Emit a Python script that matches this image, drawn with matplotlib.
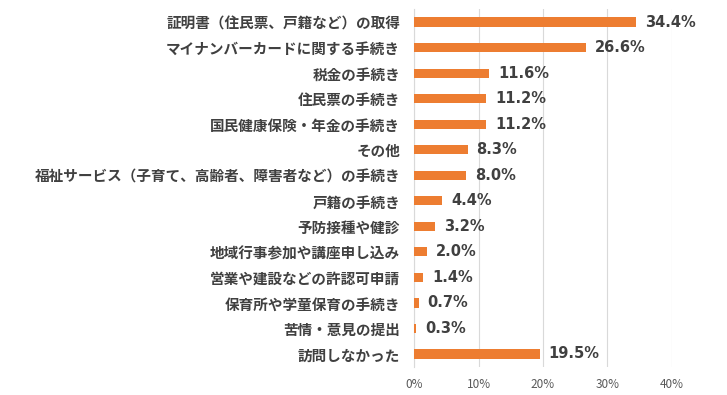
import matplotlib
matplotlib.use('Agg')
import matplotlib.pyplot as plt
from matplotlib.ticker import FuncFormatter

plt.rcParams['font.family'] = ['Noto Sans CJK JP', 'DejaVu Sans']

# Data
categories = [
    '証明書（住民票、戸籍など）の取得',
    'マイナンバーカードに関する手続き',
    '税金の手続き',
    '住民票の手続き',
    '国民健康保険・年金の手続き',
    'その他',
    '福祉サービス（子育て、高齢者、障害者など）の手続き',
    '戸籍の手続き',
    '予防接種や健診',
    '地域行事参加や講座申し込み',
    '営業や建設などの許認可申請',
    '保育所や学童保育の手続き',
    '苦情・意見の提出',
    '訪問しなかった',
]
values = [34.4, 26.6, 11.6, 11.2, 11.2, 8.3, 8.0, 4.4, 3.2, 2.0, 1.4, 0.7, 0.3, 19.5]
x_ticks = [0, 10, 20, 30, 40]

fig = plt.figure(figsize=(7.27, 3.95), dpi=100)
ax = fig.add_axes([0.5695, 0.0715, 0.3548, 0.905])

y = list(range(len(categories)))
ax.barh(y, values, height=0.36, color='#ED7D31', zorder=3)
ax.set_ylim(len(categories) - 0.5, -0.5)
ax.set_xlim(0, 40)

for yi, v in zip(y, values):
    ax.text(v + 1.4, yi, f'{v:.1f}%', va='center', ha='left', family='DejaVu Sans',
            fontsize=10.5, fontweight='bold', color='#404040')

ax.set_yticks(y)
ax.set_yticklabels(categories, fontsize=10.5, fontweight='bold', color='#404040')
ax.tick_params(axis='y', length=0, pad=10)

ax.set_xticks(x_ticks)
ax.xaxis.set_major_formatter(FuncFormatter(lambda v, p: f'{v:.0f}%'))
ax.tick_params(axis='x', length=0, labelsize=8.5, colors='#595959', pad=8)

ax.grid(axis='x', color='#D9D9D9', linewidth=0.8, zorder=0)
for side in ['top', 'right', 'bottom']:
    ax.spines[side].set_visible(False)
ax.spines['left'].set_color('#D9D9D9')

fig.savefig('out.png', dpi=100)
